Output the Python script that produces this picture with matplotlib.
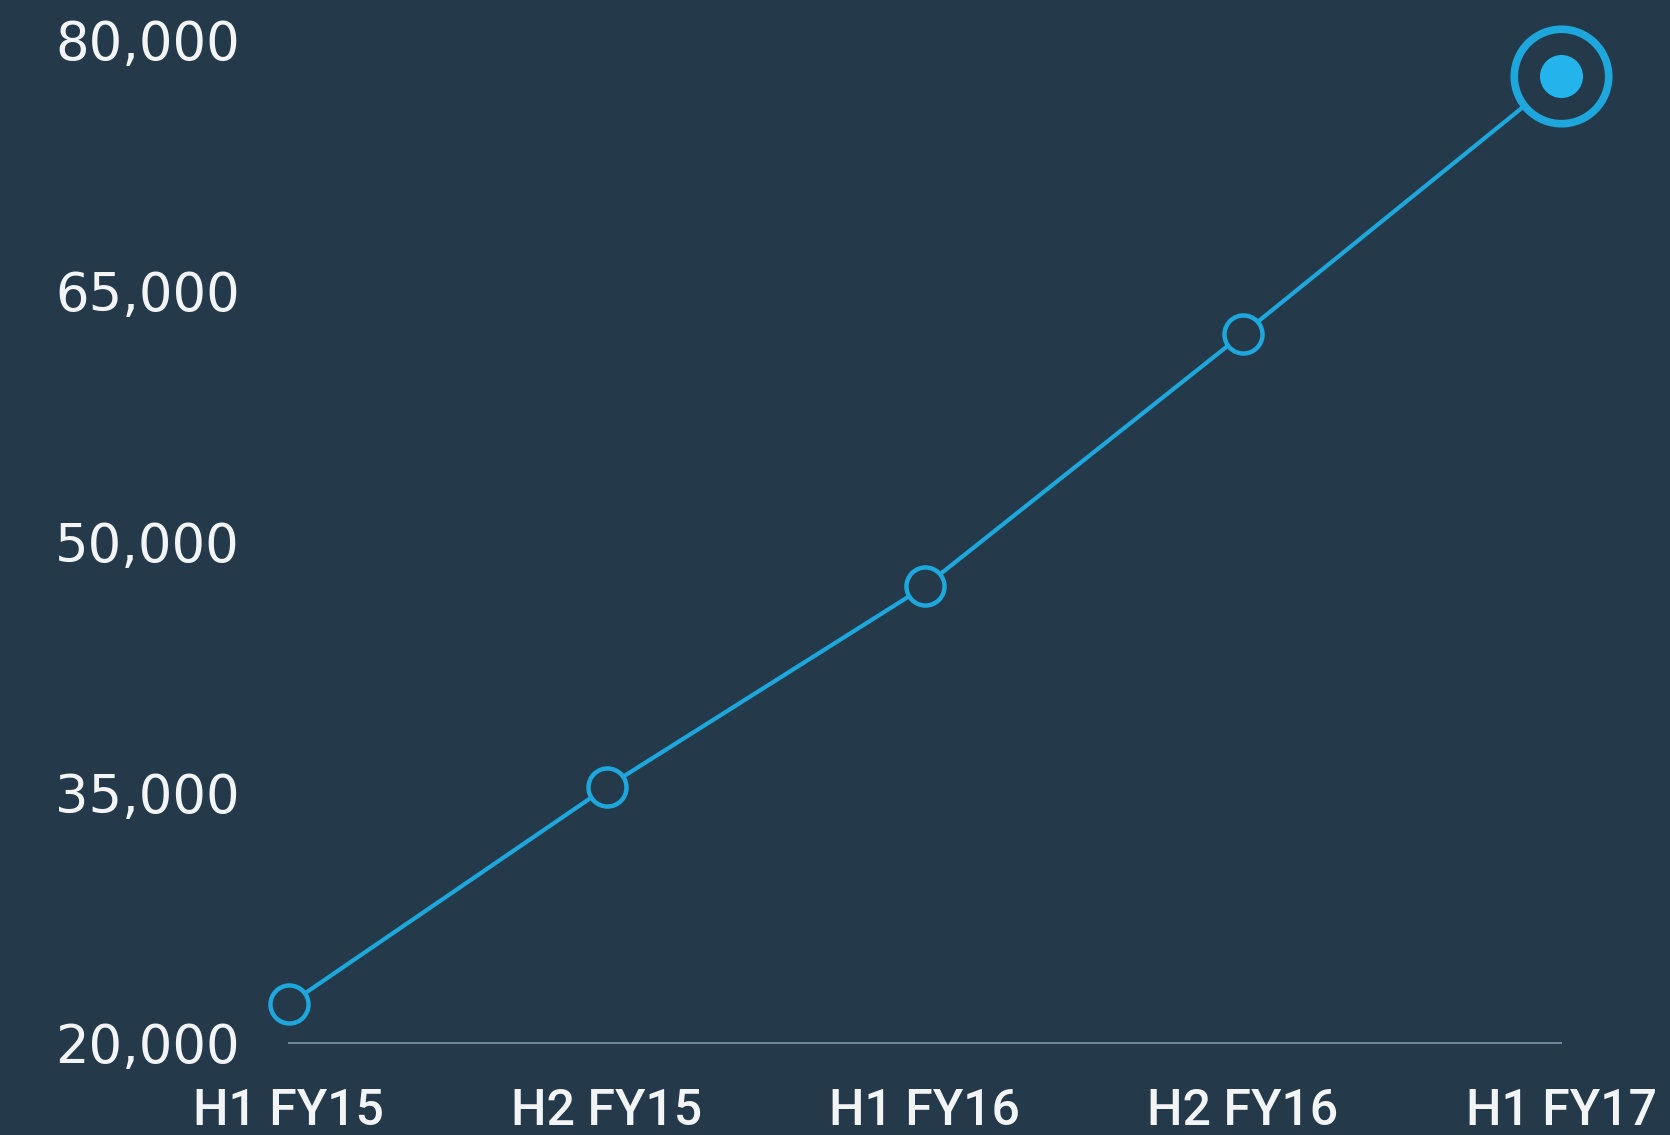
import matplotlib
matplotlib.use("Agg")
import matplotlib.pyplot as plt

# data
periods = ["H1 FY15", "H2 FY15", "H1 FY16", "H2 FY16", "H1 FY17"]
values = [22300, 35300, 47300, 62400, 77800]
y_ticks = [20000, 35000, 50000, 65000, 80000]

bg = "#243a4a"
line_col = "#1ea7dc"
dot_col = "#22b4ea"
text_col = "#f2f4f6"

fig = plt.figure(figsize=(16.7, 11.35), dpi=100, facecolor=bg)
ax = fig.add_axes([0.1728, 0.0811, 0.762, 0.8842])
ax.set_facecolor(bg)

x = list(range(len(periods)))

# main line with open circles
ax.plot(x, values, color=line_col, lw=3.0, zorder=2, clip_on=False)
ax.plot(x[:-1], values[:-1], "o", ms=27.4, mew=3.2, mec=line_col, mfc=bg,
        zorder=3, clip_on=False)

# highlighted latest point
ax.plot(x[-1], values[-1], "o", ms=68, mew=5.5, mec=line_col, mfc=bg,
        zorder=3, clip_on=False)
ax.plot(x[-1], values[-1], "o", ms=31, mew=0, mfc=dot_col,
        zorder=4, clip_on=False)

ax.set_xlim(0, len(periods) - 1)
ax.set_ylim(y_ticks[0], y_ticks[-1])

ax.set_xticks(x)
ax.set_xticklabels(periods, fontsize=36, color=text_col, family="Roboto",
                   fontweight="medium")
ax.set_yticks(y_ticks)
ax.set_yticklabels([f"{v:,}" for v in y_ticks], fontsize=38, color=text_col,
                   family="DejaVu Sans")
ax.tick_params(axis="x", length=0, pad=32)
ax.tick_params(axis="y", length=0, pad=35)

for s in ["top", "right", "left"]:
    ax.spines[s].set_visible(False)
ax.spines["bottom"].set_color("#6d8ba0")
ax.spines["bottom"].set_linewidth(1.4)

fig.savefig("out.png", dpi=100, facecolor=bg)
